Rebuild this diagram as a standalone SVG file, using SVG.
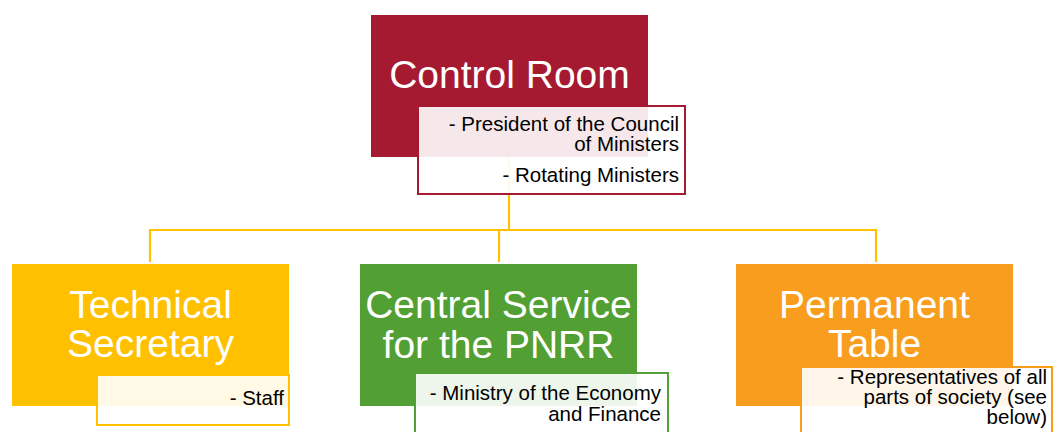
<svg xmlns="http://www.w3.org/2000/svg" width="1053" height="432" viewBox="0 0 1053 432">
  <style>
    .conn { fill: none; stroke: #FFC000; stroke-width: 2.2; }
    .title { font-family: "Liberation Sans", Arial, sans-serif; font-size: 39px; fill: #ffffff; text-anchor: middle; }
    .note { font-family: "Liberation Sans", Arial, sans-serif; font-size: 20.5px; fill: #000000; text-anchor: end; }
    .sub { fill: #ffffff; fill-opacity: 0.9; stroke-width: 2; }
  </style>
  <rect width="1053" height="432" fill="#ffffff"/>

  <!-- connectors -->
  <g id="connectors">
    <path class="conn" d="M509,157 V230"/>
    <path class="conn" d="M150,262 V230 H876 V262"/>
    <path class="conn" d="M499,230 V262"/>
  </g>

  <!-- top: Control Room -->
  <g id="control-room">
    <rect x="371" y="15" width="277" height="142" fill="#A51A30"/>
    <text class="title" x="509.5" y="88">Control Room</text>
    <rect class="sub" x="418" y="106" width="267" height="88" stroke="#A51A30"/>
    <text class="note"><tspan x="679" y="131">- President of the Council</tspan><tspan x="679" y="151">of Ministers</tspan></text>
    <text class="note" x="679" y="182">- Rotating Ministers</text>
  </g>

  <!-- Technical Secretary -->
  <g id="technical-secretary">
    <rect x="12" y="264" width="277" height="142" fill="#FFC000"/>
    <text class="title"><tspan x="150.5" y="318">Technical</tspan><tspan x="150.5" y="357">Secretary</tspan></text>
    <rect class="sub" x="97" y="375" width="192" height="50" stroke="#FFC000"/>
    <text class="note" x="284" y="405">- Staff</text>
  </g>

  <!-- Central Service for the PNRR -->
  <g id="central-service">
    <rect x="360" y="264" width="277" height="142" fill="#52A034"/>
    <text class="title"><tspan x="498.5" y="318">Central Service</tspan><tspan x="498.5" y="358">for the PNRR</tspan></text>
    <rect class="sub" x="415" y="373" width="253" height="70" stroke="#52A034"/>
    <text class="note"><tspan x="661" y="400">- Ministry of the Economy</tspan><tspan x="661" y="421">and Finance</tspan></text>
  </g>

  <!-- Permanent Table -->
  <g id="permanent-table">
    <rect x="736" y="264" width="277" height="142" fill="#F99D1E"/>
    <text class="title"><tspan x="874.5" y="318">Permanent</tspan><tspan x="874.5" y="357">Table</tspan></text>
    <rect class="sub" x="801" y="367" width="251" height="76" stroke="#F99D1E"/>
    <text class="note"><tspan x="1047" y="384">- Representatives of all</tspan><tspan x="1047" y="404">parts of society (see</tspan><tspan x="1047" y="424">below)</tspan></text>
  </g>
</svg>
